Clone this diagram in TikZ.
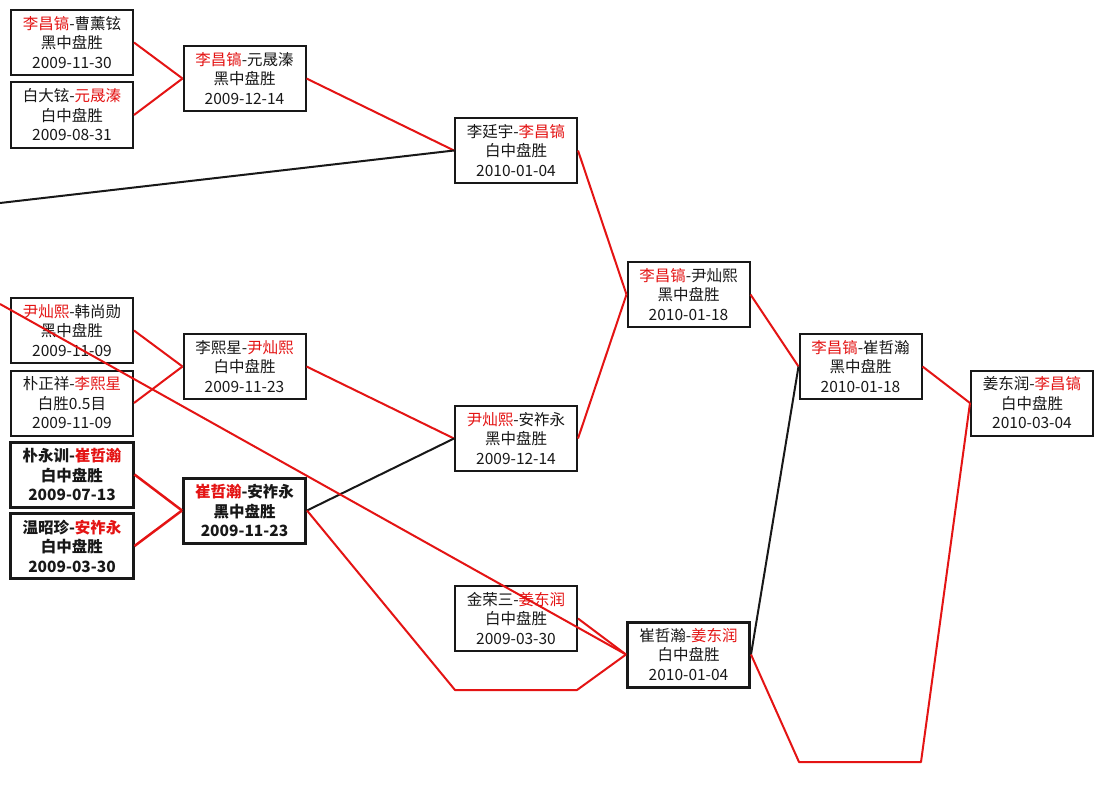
\documentclass[tikz,border=0pt]{standalone}
\usepackage{fontspec}
\setmainfont{Noto Sans CJK SC}
\definecolor{wred}{RGB}{228,20,20}
\definecolor{ink}{RGB}{24,24,24}
\newcommand\rn[1]{\textcolor{wred}{#1}}
\begin{document}
\begin{tikzpicture}[x=1bp,y=-1bp,
  box/.style={draw=ink,line width=2bp,minimum width=122bp,minimum height=65bp,inner sep=0pt,align=center,font=\fontsize{15.5bp}{19.5bp}\selectfont,text=ink},
  heavy/.style={box,line width=3bp},
  hb/.style={heavy,font=\fontsize{15.5bp}{19.5bp}\selectfont\bfseries},
  win/.style={draw=wred,line width=2bp},
  winb/.style={draw=wred,line width=2.5bp},
  loss/.style={draw=ink,line width=2bp}]
\useasboundingbox[fill=white] (0,0) rectangle (1104,805);
% column 1
\node[box] (A1) at (72,42.5) {\rn{李昌镐}-曹薰铉\\黑中盘胜\\2009-11-30};
\node[box] (A2) at (72,115) {白大铉-\rn{元晟溱}\\白中盘胜\\2009-08-31};
\node[box] (A3) at (72,330.5) {\rn{尹灿熙}-韩尚勋\\黑中盘胜\\2009-11-09};
\node[box] (A4) at (72,403) {朴正祥-\rn{李熙星}\\白胜0.5目\\2009-11-09};
\node[hb] (A5) at (72,474.5) {朴永训-\rn{崔哲瀚}\\白中盘胜\\2009-07-13};
\node[hb] (A6) at (72,546) {温昭珍-\rn{安祚永}\\白中盘胜\\2009-03-30};
% column 2
\node[box] (B1) at (244.5,78.5) {\rn{李昌镐}-元晟溱\\黑中盘胜\\2009-12-14};
\node[box] (B2) at (244.5,366.5) {李熙星-\rn{尹灿熙}\\白中盘胜\\2009-11-23};
\node[hb] (B3) at (244.5,510.5) {\rn{崔哲瀚}-安祚永\\黑中盘胜\\2009-11-23};
% column 3
\node[box] (C1) at (516,150.5) {李廷宇-\rn{李昌镐}\\白中盘胜\\2010-01-04};
\node[box] (C2) at (516,438.5) {\rn{尹灿熙}-安祚永\\黑中盘胜\\2009-12-14};
\node[box] (C3) at (516,618.5) {金荣三-\rn{姜东润}\\白中盘胜\\2009-03-30};
% column 4
\node[box] (D1) at (688.5,294.5) {\rn{李昌镐}-尹灿熙\\黑中盘胜\\2010-01-18};
\node[heavy] (D2) at (688.5,654.5) {崔哲瀚-\rn{姜东润}\\白中盘胜\\2010-01-04};
% column 5
\node[box] (E1) at (860.5,366.5) {\rn{李昌镐}-崔哲瀚\\黑中盘胜\\2010-01-18};
% column 6
\node[box] (F1) at (1032,403) {姜东润-\rn{李昌镐}\\白中盘胜\\2010-03-04};
% free ends and bends
\coordinate (L1) at (0,203);
\coordinate (L2) at (0,304);
\coordinate (P1) at (455,690);
\coordinate (P2) at (577,690);
\coordinate (Q1) at (799,762);
\coordinate (Q2) at (921,762);
% connectors
\draw[win] (A1.east) -- (B1.west);
\draw[win] (A2.east) -- (B1.west);
\draw[win] (B1.east) -- (C1.west);
\draw[loss] (L1) -- (C1.west);
\draw[win] (C1.east) -- (D1.west);
\draw[win] (C2.east) -- (D1.west);
\draw[win] (D1.east) -- (E1.west);
\draw[win] (E1.east) -- (F1.west);
\draw[win] (A3.east) -- (B2.west);
\draw[win] (A4.east) -- (B2.west);
\draw[win] (B2.east) -- (C2.west);
\draw[winb] (A5.east) -- (B3.west);
\draw[winb] (A6.east) -- (B3.west);
\draw[loss] (B3.east) -- (C2.west);
\draw[win,line join=round] (B3.east) -- (P1) -- (P2) -- (D2.west);
\draw[win] (L2) -- (D2.west);
\draw[win] (C3.east) -- (D2.west);
\draw[loss] (D2.east) -- (E1.west);
\draw[win,line join=round] (D2.east) -- (Q1) -- (Q2) -- (F1.west);
\end{tikzpicture}
\end{document}
